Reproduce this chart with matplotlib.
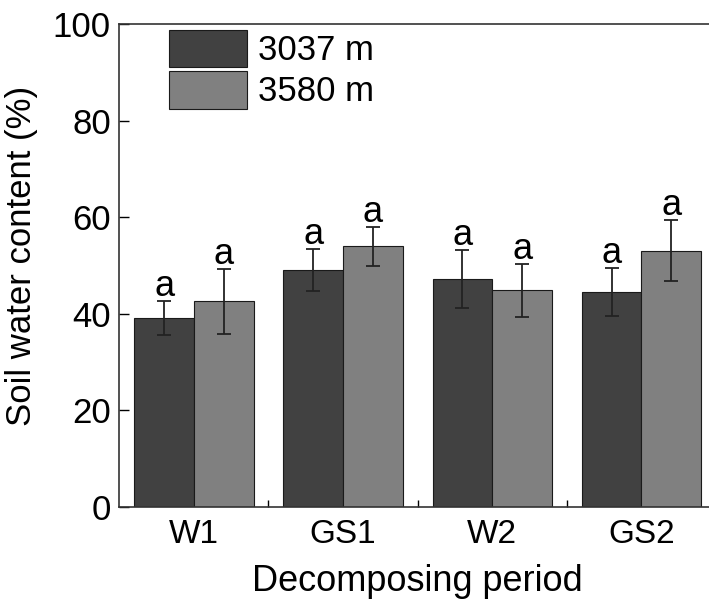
import numpy as np
import matplotlib
matplotlib.use("Agg")
import matplotlib.pyplot as plt
from matplotlib.ticker import FixedLocator

plt.rcParams['font.family'] = ['Liberation Sans', 'DejaVu Sans']

# data
periods = ["W1", "GS1", "W2", "GS2"]
series = ["3037 m", "3580 m"]
low_site = [39.2, 49.1, 47.3, 44.5]
low_err = [3.5, 4.3, 6.0, 5.0]
high_site = [42.6, 54.0, 44.9, 53.1]
high_err = [6.7, 4.0, 5.5, 6.3]
letters_low = ["a", "a", "a", "a"]
letters_high = ["a", "a", "a", "a"]

colors = ["#414141", "#808080"]

fig = plt.figure(figsize=(7.09, 6.06), dpi=100)
ax = fig.add_axes([0.1683, 0.1634, 0.8416, 0.7962])

x = np.arange(1, len(periods) + 1)
w = 0.4
groups = [(low_site, low_err, letters_low), (high_site, high_err, letters_high)]
for i, (vals, errs, lets) in enumerate(groups):
    pos = x - w / 2 + i * w
    ax.bar(pos, vals, width=w, color=colors[i], edgecolor="#1a1a1a", linewidth=0.8,
           label=series[i], zorder=2)
    ax.errorbar(pos, vals, yerr=errs, fmt="none", ecolor="#222222", elinewidth=1.3,
                capsize=5, capthick=1.3, zorder=3)
    for p, v, e, t in zip(pos, vals, errs, lets):
        ax.text(p, v + e - 0.6, t, ha="center", va="bottom", fontsize=26, zorder=4)

ax.set_xlim(0.5, 4.5)
ax.set_ylim(0, 100)
ax.set_yticks([0, 20, 40, 60, 80, 100])
ax.set_xticks(x)
ax.set_xticklabels(periods)
ax.xaxis.set_minor_locator(FixedLocator([1.5, 2.5, 3.5]))
ax.tick_params(axis="x", which="major", length=0, labelsize=24, pad=9)
ax.tick_params(axis="x", which="minor", direction="in", length=5, width=1)
ax.tick_params(axis="y", direction="in", length=7, width=1, labelsize=25, pad=6)
for s in ax.spines.values():
    s.set_linewidth(1.2)
    s.set_color("#333333")

ax.set_xlabel("Decomposing period", fontsize=26, labelpad=10)
ax.set_ylabel("Soil water content (%)", fontsize=25)
ax.yaxis.set_label_coords(-0.136, 0.52)

ax.legend(loc="upper left", bbox_to_anchor=(0.0833, 0.9896), frameon=False, fontsize=25,
          handlelength=2.25, handleheight=1.3, handletextpad=0.3, labelspacing=0.1,
          borderpad=0, borderaxespad=0)

fig.savefig("out.png", dpi=100)
